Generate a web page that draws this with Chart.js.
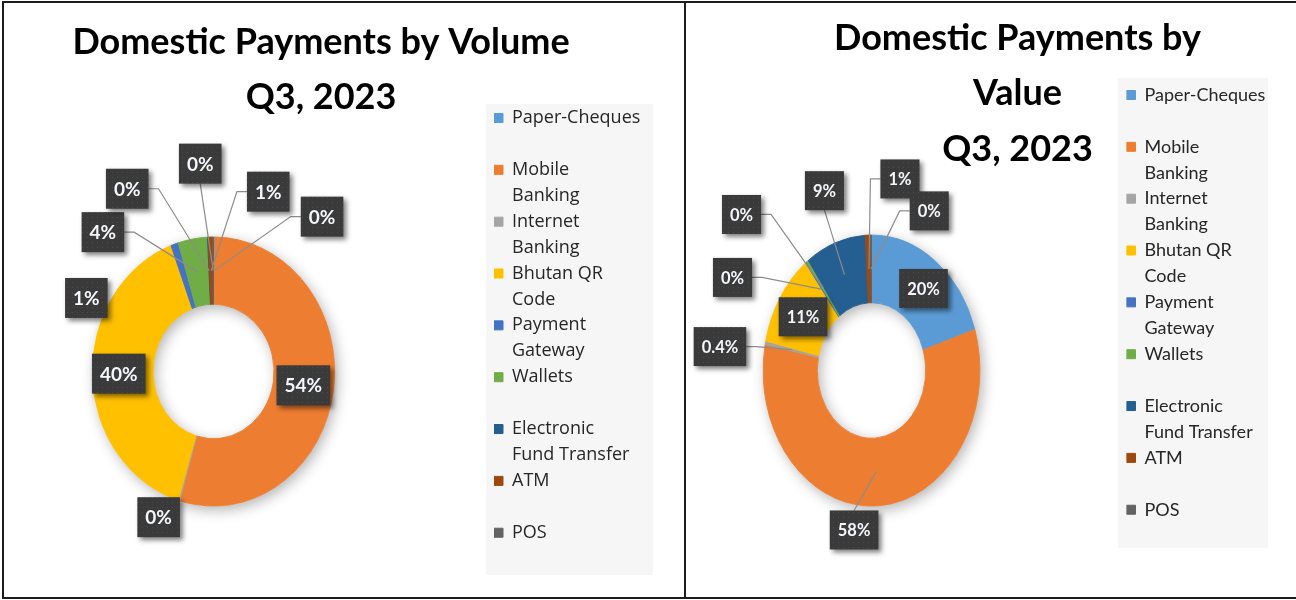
<!DOCTYPE html>
<html>
<head>
<meta charset="utf-8">
<script src="https://cdn.jsdelivr.net/npm/chart.js@4.4.1/dist/chart.umd.min.js"></script>
<style>
  html, body { margin: 0; padding: 0; background: #fff; }
  body { width: 1296px; height: 600px; position: relative; overflow: hidden; }
  canvas { position: absolute; top: 0; }
  #volumeChart { left: 0; }
  #valueChart { left: 686px; }
  .rule { position: absolute; background: #1c1c1c; }
</style>
</head>
<body>
<canvas id="volumeChart" width="686" height="600"></canvas>
<canvas id="valueChart" width="610" height="600"></canvas>
<div class="rule" style="left:2px; top:1px; width:1294px; height:2px"></div>
<div class="rule" style="left:2px; top:1px; width:2px; height:598px"></div>
<div class="rule" style="left:684px; top:1px; width:2px; height:598px"></div>
<div class="rule" style="left:2px; top:597px; width:1294px; height:2px"></div>
<script>
// legend text is wrapped the way the original legend wraps it
const categories = [['Paper-Cheques'], ['Mobile', 'Banking'], ['Internet', 'Banking'], ['Bhutan QR', 'Code'],
    ['Payment', 'Gateway'], ['Wallets'], ['Electronic', 'Fund Transfer'], ['ATM'], ['POS']];
const colors = ['#5B9BD5', '#ED7D31', '#A5A5A5', '#FFC000', '#4472C4', '#70AD47', '#255E91', '#9E480E', '#636363'];

// share of total, %
const volumeShare = [0.2, 54.3, 0.2, 39.6, 1.0, 3.9, 0.1, 0.6, 0.1];
const valueShare = [20.1, 58.0, 0.4, 11.1, 0.2, 0.3, 9.0, 0.8, 0.1];

const volumeTitle = ['Domestic Payments by Volume', 'Q3, 2023'];
const valueTitle = ['Domestic Payments by', 'Value', 'Q3, 2023'];

const FONT = 'Lato';
const TITLE_SIZE = 36, TITLE_LH = 1.55;

function pctLabel(p) {
    const r = Math.round(p);
    return (r === 0 && p >= 0.35 ? p.toFixed(1) : r) + '%';
}

function dotPattern(ctx) {
    const p = document.createElement('canvas');
    p.width = p.height = 5;
    const g = p.getContext('2d');
    g.fillStyle = '#3a3a3a';
    g.fillRect(0, 0, 5, 5);
    g.fillStyle = '#4b4b4b';
    g.fillRect(2, 2, 1, 1);
    return ctx.createPattern(p, 'repeat');
}

// places ring / title / legend like the excel layout, squeezes the ring, draws callouts
function framePlugin(f) {
    return {
        id: 'frame',
        afterLayout(chart) {
            const r = f.ring;
            chart.chartArea = { left: r.x - r.r, top: r.y - r.r, right: r.x + r.r, bottom: r.y + r.r, width: 2 * r.r, height: 2 * r.r };

            const lg = chart.legend;
            lg.left = f.legend.x;
            lg.top = f.legend.y;
            lg.right = lg.left + lg.width;
            lg.height = f.legendBg.h;
            lg.bottom = lg.top + lg.height;

            const t = chart.titleBlock;
            t.left = f.title.x - 320;
            t.right = f.title.x + 320;
            t.width = 640;
            t.top = f.title.y - TITLE_SIZE * TITLE_LH / 2;
            t.bottom = t.top + t.height;
        },
        beforeDraw(chart) {
            const b = f.legendBg;
            chart.ctx.save();
            chart.ctx.fillStyle = '#f6f6f6';
            chart.ctx.fillRect(b.x, b.y, b.w, b.h);
            chart.ctx.restore();
        },
        beforeDatasetsDraw(chart) {
            const ctx = chart.ctx;
            const arc = chart.getDatasetMeta(0).data[0];
            ctx.save();
            ctx.translate(arc.x, arc.y);
            ctx.scale(f.ring.squeeze, 1);
            ctx.translate(-arc.x, -arc.y);
            // soft shadow under the ring
            ctx.save();
            ctx.shadowColor = 'rgba(0,0,0,0.3)';
            ctx.shadowBlur = 14;
            ctx.shadowOffsetX = 3;
            ctx.shadowOffsetY = 4;
            ctx.beginPath();
            ctx.arc(arc.x, arc.y, arc.outerRadius, 0, Math.PI * 2);
            ctx.arc(arc.x, arc.y, arc.innerRadius, 0, Math.PI * 2, true);
            ctx.fillStyle = '#fff';
            ctx.fill();
            ctx.restore();
        },
        afterDatasetsDraw(chart) {
            const ctx = chart.ctx;
            ctx.restore();

            const meta = chart.getDatasetMeta(0);
            const vals = chart.data.datasets[0].data;
            const total = vals.reduce((a, b) => a + b, 0);
            const sq = f.ring.squeeze;
            const lb = f.labels;
            ctx.save();
            ctx.font = `bold ${lb.size}px ${FONT}`;

            const boxes = meta.data.map((arc, i) => {
                const c = arc.getCenterPoint();
                const cx = arc.x + sq * (c.x - arc.x), cy = c.y;
                const lx = cx + lb.nudge[i][0], ly = cy + lb.nudge[i][1];
                const text = pctLabel(vals[i] / total * 100);
                const w = ctx.measureText(text).width + 2 * lb.padX;
                const h = lb.boxH;
                return { arc, cx, cy, lx, ly, text, l: lx - w / 2, r: lx + w / 2, t: ly - h / 2, b: ly + h / 2 };
            });

            // leader lines
            ctx.strokeStyle = '#8c8c8c';
            ctx.lineWidth = 1.2;
            boxes.forEach(bx => {
                const a = bx.arc;
                const nx = Math.min(Math.max(a.x, bx.l), bx.r);
                const ny = Math.min(Math.max(a.y, bx.t), bx.b);
                if (Math.hypot((nx - a.x) / sq, ny - a.y) < a.outerRadius) return;
                const gapX = Math.max(bx.l - bx.cx, bx.cx - bx.r, 0);
                ctx.beginPath();
                if (gapX > 10) {
                    const left = bx.cx < bx.l;
                    const ax = left ? bx.l : bx.r;
                    ctx.moveTo(ax, bx.ly);
                    ctx.lineTo(ax + (left ? -10 : 10), bx.ly);
                } else {
                    ctx.moveTo(bx.lx, bx.cy < bx.t ? bx.t : bx.b);
                }
                ctx.lineTo(bx.cx, bx.cy);
                ctx.stroke();
            });

            // callout boxes
            const pat = dotPattern(ctx);
            boxes.forEach(bx => {
                ctx.save();
                ctx.shadowColor = 'rgba(0,0,0,0.5)';
                ctx.shadowBlur = 5;
                ctx.shadowOffsetX = 3;
                ctx.shadowOffsetY = 3;
                ctx.fillStyle = pat;
                ctx.fillRect(bx.l, bx.t, bx.r - bx.l, bx.b - bx.t);
                ctx.restore();
            });
            ctx.fillStyle = '#f4f7fb';
            ctx.textAlign = 'center';
            ctx.textBaseline = 'middle';
            boxes.forEach(bx => ctx.fillText(bx.text, bx.lx, bx.ly + 1));
            ctx.restore();
        }
    };
}

function makeChart(id, shares, title, f) {
    return new Chart(document.getElementById(id), {
        type: 'doughnut',
        data: {
            labels: categories,
            datasets: [{
                data: shares,
                backgroundColor: colors,
                borderColor: colors,
                borderWidth: 1,
                radius: f.ring.r,
                cutout: '50%'
            }]
        },
        options: {
            responsive: false,
            animation: false,
            events: [],
            layout: { autoPadding: false },
            plugins: {
                tooltip: { enabled: false },
                title: {
                    display: true,
                    text: title,
                    fullSize: false,
                    color: '#000',
                    padding: 0,
                    font: { family: FONT, size: TITLE_SIZE, weight: 'bold', lineHeight: TITLE_LH }
                },
                legend: {
                    position: 'right',
                    align: 'start',
                    labels: {
                        boxWidth: 9,
                        boxHeight: 9,
                        padding: 0,
                        color: '#262626',
                        font: { family: f.legendFont, size: 18, lineHeight: 1.44 },
                        generateLabels(chart) {
                            const items = Chart.overrides.doughnut.plugins.legend.labels.generateLabels(chart);
                            items.forEach(it => {
                                const lines = [].concat(it.text);
                                while (lines.length < 2) lines.push('');
                                it.text = lines;
                            });
                            return items;
                        }
                    }
                }
            }
        },
        plugins: [framePlugin(f)]
    });
}

makeChart('volumeChart', volumeShare, volumeTitle, {
    ring: { x: 213.5, y: 371.5, r: 134.5, squeeze: 0.9 },
    title: { x: 321, y: 42 },
    legend: { x: 494, y: 109 },
    legendBg: { x: 486, y: 104, w: 167, h: 471 },
    legendFont: 'Open Sans',
    labels: {
        size: 19, padX: 8, boxH: 40,
        nudge: [[108, -54], [0, -1], [-29, 49], [-4, -1], [-98, 22], [-95, -40], [-82, -82], [57, -79], [-13, -107]]
    }
});

makeChart('valueChart', valueShare, valueTitle, {
    ring: { x: 185.5, y: 370.5, r: 135.5, squeeze: 0.8 },
    title: { x: 331.5, y: 38 },
    legend: { x: 440.5, y: 86 },
    legendBg: { x: 432, y: 78, w: 150, h: 470 },
    legendFont: 'Lato',
    labels: {
        size: 16.5, padX: 8, boxH: 39,
        nudge: [[4, 0], [-22, 58], [-72, -3], [0, 1], [-90, -12], [-82, -74], [-20, -84], [31, -90], [58, -58]]
    }
});
</script>
</body>
</html>
